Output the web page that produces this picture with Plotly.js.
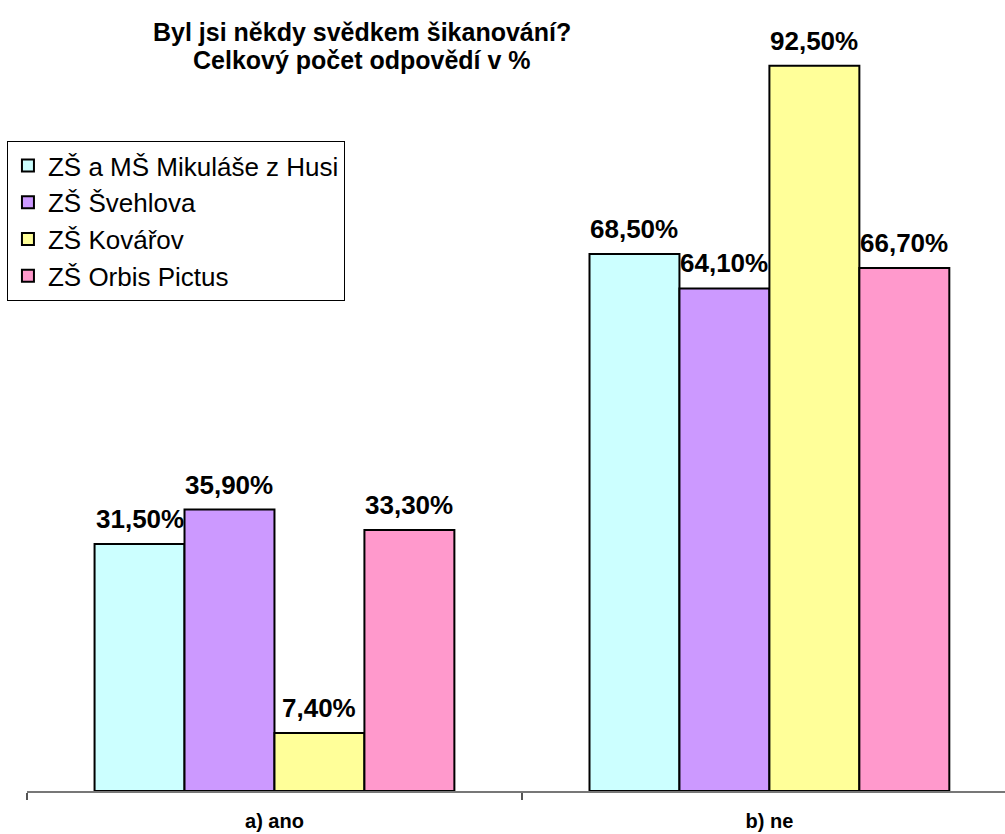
<!DOCTYPE html>
<html><head><meta charset="utf-8">
<script src="https://cdn.plot.ly/plotly-3.0.1.min.js"></script>
<style>html,body{margin:0;padding:0;background:#fff}</style>
</head><body>
<div id="chart" style="width:1005px;height:834px"></div>
<script>
const categories = ["a) ano", "b) ne"];
const seriesNames = ["ZŠ a MŠ Mikuláše z Husi", "ZŠ Švehlova", "ZŠ Kovářov", "ZŠ Orbis Pictus"];
const valuesMikulas = [31.5, 68.5];
const valuesSvehlova = [35.9, 64.1];
const valuesKovarov = [7.4, 92.5];
const valuesOrbis = [33.3, 66.7];
const seriesValues = [valuesMikulas, valuesSvehlova, valuesKovarov, valuesOrbis];
const colors = ["#CCFFFF", "#CC99FF", "#FFFF99", "#FF99CC"];
const titleLines = ["Byl jsi někdy svědkem šikanování?", "Celkový počet odpovědí v %"];

const FONT = "Liberation Sans, Arial, sans-serif";
const bargap = 0.273;
const nS = seriesValues.length;
const barW = (1 - bargap) / nS;

const fmt = v => v.toFixed(2).replace(".", ",") + "%";

const traces = seriesValues.map((vals, i) => ({
  type: "bar",
  name: seriesNames[i],
  x: categories.map((c, k) => k),
  y: vals,
  marker: {color: colors[i], line: {color: "#000", width: 2}},
  legendgroup: "g" + i,
  hoverinfo: "none"
}));

const annotations = [];
seriesValues.forEach((vals, i) => {
  vals.forEach((v, k) => {
    annotations.push({
      x: k + (i - (nS - 1) / 2) * barW,
      y: v,
      xref: "x", yref: "y",
      text: "<b>" + fmt(v) + "</b>",
      showarrow: false,
      yanchor: "bottom",
      yshift: 8,
      font: {family: FONT, size: 26, color: "#000"}
    });
  });
});
const titleY = [0.968, 0.932];
titleLines.forEach((t, j) => {
  annotations.push({
    x: 0.3425, xref: "paper", xanchor: "center",
    y: titleY[j], yref: "paper", yanchor: "middle",
    text: "<b>" + t + "</b>",
    showarrow: false,
    font: {family: FONT, size: 25, color: "#000"}
  });
});

const layout = {
  width: 1005, height: 834,
  margin: {l: 27, r: 0, t: 7, b: 43},
  paper_bgcolor: "#fff", plot_bgcolor: "#fff",
  barmode: "group",
  bargap: bargap,
  bargroupgap: 0,
  showlegend: true,
  xaxis: {
    range: [-0.5, 1.476],
    tickmode: "array",
    tickvals: categories.map((c, k) => k),
    ticktext: categories.map(c => "<b>" + c + "</b>"),
    ticks: "outside", ticklen: 11, tickcolor: "rgba(0,0,0,0)", tickwidth: 1,
    minor: {
      tickmode: "array",
      tickvals: categories.map((c, k) => k - 0.5),
      ticks: "outside", ticklen: 7, tickcolor: "#555", tickwidth: 2,
      showgrid: false
    },
    showline: true, linecolor: "#777", linewidth: 2,
    showgrid: false, zeroline: false,
    tickfont: {family: FONT, size: 20, color: "#000"},
    fixedrange: true
  },
  yaxis: {
    range: [0, 100],
    visible: false, showgrid: false, zeroline: false,
    fixedrange: true
  },
  legend: {
    x: -0.0205, xref: "paper", xanchor: "left",
    y: 0.829, yref: "paper", yanchor: "top",
    bordercolor: "#000", borderwidth: 1, bgcolor: "#fff",
    font: {family: FONT, size: 26, color: "#000"},
    tracegroupgap: 1,
    traceorder: "normal"
  },
  annotations: annotations
};

Plotly.newPlot("chart", traces, layout, {displayModeBar: false, staticPlot: true});
</script>
</body></html>
